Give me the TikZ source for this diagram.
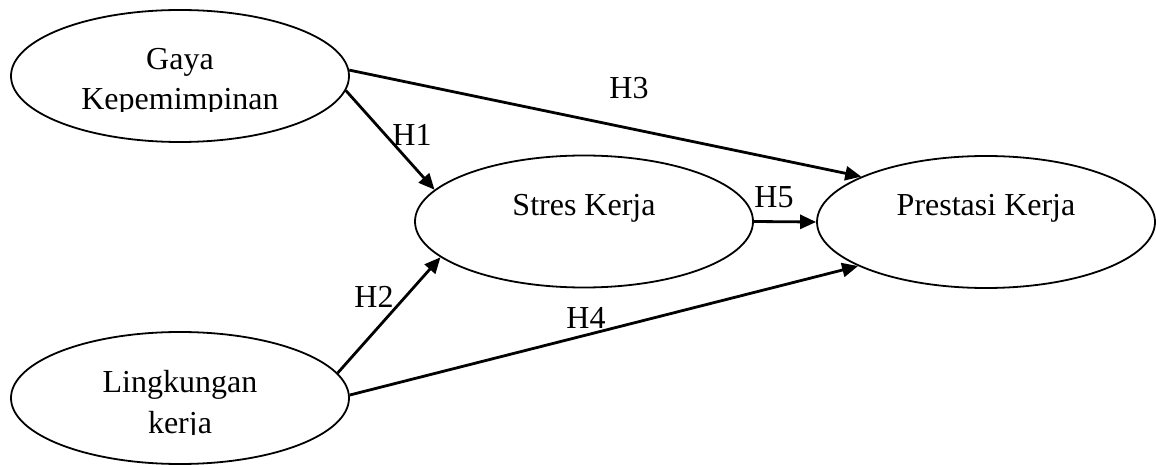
\documentclass[tikz,border=0pt]{standalone}
\usepackage{fontspec}
\setmainfont{Liberation Serif}
\usetikzlibrary{shapes.geometric,arrows.meta}
\begin{document}
\begin{tikzpicture}[x=1pt,y=1pt,
  var/.style={ellipse, draw, line width=1.8pt, minimum width=338pt, minimum height=132pt, inner sep=0pt},
  txt/.style={font=\fontsize{32}{40}\selectfont, inner sep=0pt, anchor=base},
  hyp/.style={line width=2.8pt, -{Triangle[length=16pt,width=14pt]}},
  hlab/.style={font=\fontsize{32}{40}\selectfont, inner sep=0pt}]
\useasboundingbox (0,0) rectangle (1156,464);
\node[var] (g) at (180,388) {};
\node[var] (l) at (180,66) {};
\node[var] (s) at (584,242.5) {};
\node[var] (p) at (986,242) {};
% texts
\node[txt] (gt1) at (180,394) {Gaya};
\begin{scope}
  \clip (0,352) rectangle (400,464);
  \node[txt] (gt2) at (180,354) {Kepemimpinan};
\end{scope}
\node[txt] (lt1) at (180,72) {Lingkungan};
\begin{scope}
  \clip (0,29.5) rectangle (400,140);
  \node[txt] (lt2) at (180,31) {kerja};
\end{scope}
\node[txt] (st) at (584,248) {Stres Kerja};
\node[txt] (pt) at (986,248) {Prestasi Kerja};
% arrows
\draw[hyp] (g.2) -- (p.160);
\draw[hyp] (g.-5) -- (s.168);
\draw[hyp] (l.9) -- (s.194);
\draw[hyp] (l.1) -- (p.199);
\draw[hyp] (s.east) -- (p.west);
% labels
\node[hlab] (h1) at (412,329) {H1};
\node[hlab] (h2) at (374,167) {H2};
\node[hlab] (h3) at (629,376) {H3};
\node[hlab] (h4) at (586,146) {H4};
\node[hlab] (h5) at (774,267) {H5};
\end{tikzpicture}
\end{document}
